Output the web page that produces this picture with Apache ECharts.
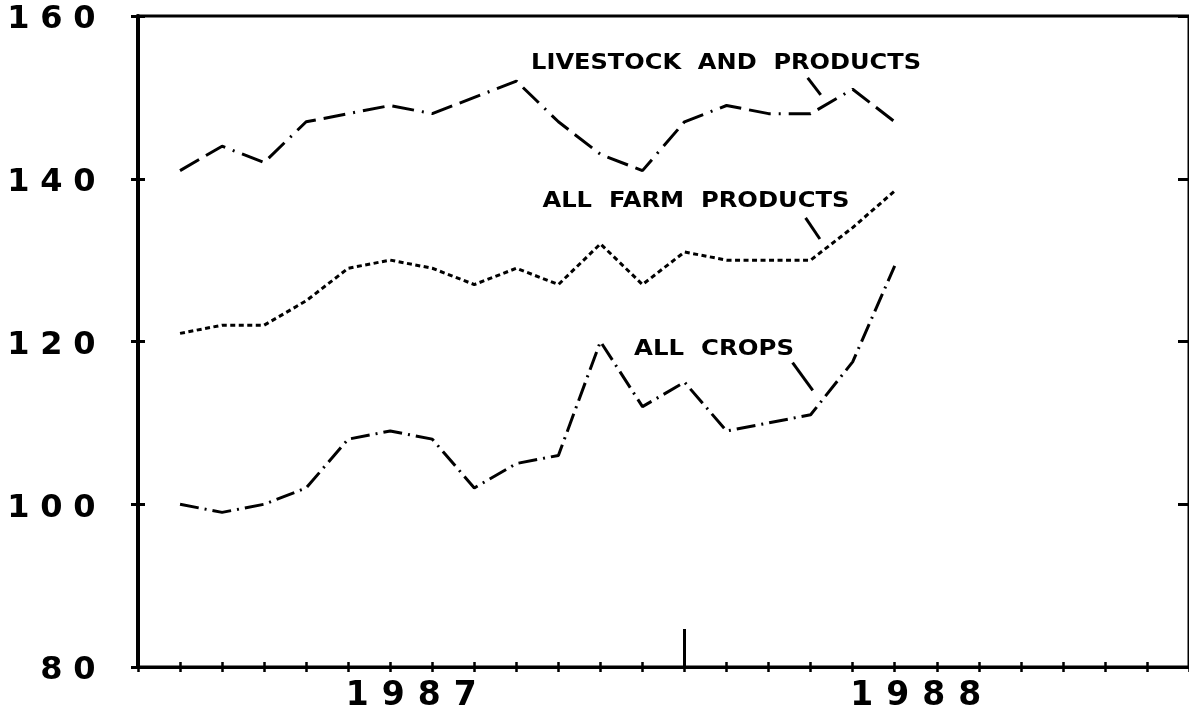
<!DOCTYPE html>
<html>
<head>
<meta charset="utf-8">
<script src="https://cdn.jsdelivr.net/npm/echarts@6/dist/echarts.min.js"></script>
<style>
html, body { margin: 0; padding: 0; background: #fff; }
#main { width: 1189px; height: 713px; }
</style>
</head>
<body>
<div id="main"></div>
<script>
// monthly index numbers, Jan 1987 .. Jun 1988
var months = ['Jan 87', 'Feb 87', 'Mar 87', 'Apr 87', 'May 87', 'Jun 87', 'Jul 87', 'Aug 87', 'Sep 87',
              'Oct 87', 'Nov 87', 'Dec 87', 'Jan 88', 'Feb 88', 'Mar 88', 'Apr 88', 'May 88', 'Jun 88'];

var livestock = [141, 144, 142, 147, 148, 149, 148, 150, 152, 147, 143, 141, 147, 149, 148, 148, 151, 147];
var allFarm   = [121, 122, 122, 125, 129, 130, 129, 127, 129, 127, 132, 127, 131, 130, 130, 130, 134, 138.5];
var allCrops  = [100, 99, 100, 102, 108, 109, 108, 102, 105, 106, 120, 112, 115, 109, 110, 111, 117.5, 129.3];

var years = ['1987', '1988'];
var yearCentres = [5.5, 17.5];   // middle of each year, in month index
var yearBreak = [12];            // Jan 1988

var FONT = '"DejaVu Sans"';

var myChart = echarts.init(document.getElementById('main'));

function pairs(vals) {
    return vals.map(function (v, i) { return [i, v]; });
}

// each digit gets its own wide cell, like the plotter lettering
function spaced(text, key) {
    return text.split('').map(function (c) { return '{' + key + '|' + c + '}'; }).join('');
}

var black = '#000';

// extra axes only carry tick marks (crossing ticks, year break, right side)
function tickAxis(extra, isX) {
    var ax = {
        type: 'value',
        axisLine: { show: false, onZero: false },
        axisLabel: { show: false },
        splitLine: { show: false }
    };
    if (isX) { ax.min = -1; ax.max = 24; ax.interval = 1; }
    else { ax.min = 80; ax.max = 160; ax.interval = 20; }
    return Object.assign(ax, extra);
}

option = {
    animation: false,
    backgroundColor: '#fff',
    grid: {
        left: 138, right: -2, top: 16, bottom: 45,
        show: true, borderColor: black, borderWidth: 3
    },
    xAxis: [{
        type: 'value', min: -1, max: 24, interval: 1, position: 'bottom',
        axisLine: { onZero: false, lineStyle: { color: black, width: 3 } },
        axisTick: { show: true, length: 5, lineStyle: { color: black, width: 2.5 } },
        splitLine: { show: false },
        axisLabel: {
            customValues: yearCentres,
            margin: 13,
            formatter: function (v) {
                return spaced(years[yearCentres.indexOf(v)], 'd');
            },
            rich: {
                d: { width: 36, align: 'center', fontSize: 33, fontWeight: 'bold', fontFamily: FONT, color: black }
            }
        }
    },
    tickAxis({ position: 'bottom', axisTick: { show: true, inside: true, length: 5, lineStyle: { color: black, width: 2.5 } } }, true),
    tickAxis({ position: 'bottom', axisTick: { show: true, inside: true, length: 38, customValues: yearBreak, lineStyle: { color: black, width: 3 } } }, true)
    ],
    yAxis: [{
        type: 'value', min: 80, max: 160, interval: 20, position: 'left',
        axisLine: { show: true, onZero: false, lineStyle: { color: black, width: 4 } },
        axisTick: { show: true, length: 7, lineStyle: { color: black, width: 3 } },
        splitLine: { show: false },
        axisLabel: {
            margin: 37,
            formatter: function (v) { return spaced(String(v), 'd'); },
            rich: {
                d: { width: 33, align: 'center', fontSize: 32, fontWeight: 'bold', fontFamily: FONT, color: black, padding: [8, 0, 0, 0] }
            }
        }
    },
    tickAxis({ position: 'left', axisTick: { show: true, inside: true, length: 7, lineStyle: { color: black, width: 3 } } }, false),
    tickAxis({ position: 'right', axisTick: { show: true, inside: true, length: 11, lineStyle: { color: black, width: 3 } } }, false)
    ],
    series: [{
        name: 'LIVESTOCK AND PRODUCTS',
        type: 'line',
        data: pairs(livestock),
        symbol: 'none',
        lineStyle: { color: black, width: 3, type: [22, 8, 22, 8, 2, 8] }
    }, {
        name: 'ALL FARM PRODUCTS',
        type: 'line',
        data: pairs(allFarm),
        symbol: 'none',
        lineStyle: { color: black, width: 3, type: [5, 3.5] }
    }, {
        name: 'ALL CROPS',
        type: 'line',
        data: pairs(allCrops),
        symbol: 'none',
        lineStyle: { color: black, width: 3, type: [19, 6, 2, 6] }
    }]
};

myChart.setOption(option);

// labels and their little leader lines, anchored in data units
var notes = [
    { text: 'LIVESTOCK  AND  PRODUCTS', at: [8.35, 154.2], width: 390, lead: [[14.93, 152.4], [15.24, 150.3]] },
    { text: 'ALL  FARM  PRODUCTS',      at: [8.62, 137.2], width: 307, lead: [[14.88, 135.2], [15.22, 132.6]] },
    { text: 'ALL  CROPS',               at: [10.8, 119.0], width: 160, lead: [[14.57, 117.4], [15.05, 114.0]] }
];

var noteFont = 'bold 21px ' + FONT;
var ctx = document.createElement('canvas').getContext('2d');
ctx.font = noteFont;

var graphics = [];
notes.forEach(function (n) {
    var p = myChart.convertToPixel({ seriesIndex: 0 }, n.at);
    var w = ctx.measureText(n.text).width;
    graphics.push({
        type: 'text', x: p[0], y: p[1], scaleX: n.width / w,
        style: { text: n.text, font: noteFont, fill: black, align: 'left', verticalAlign: 'middle' }
    });
    var a = myChart.convertToPixel({ seriesIndex: 0 }, n.lead[0]);
    var b = myChart.convertToPixel({ seriesIndex: 0 }, n.lead[1]);
    graphics.push({
        type: 'line',
        shape: { x1: a[0], y1: a[1], x2: b[0], y2: b[1] },
        style: { stroke: black, lineWidth: 3 }
    });
});

myChart.setOption({ graphic: graphics });
</script>
</body>
</html>
